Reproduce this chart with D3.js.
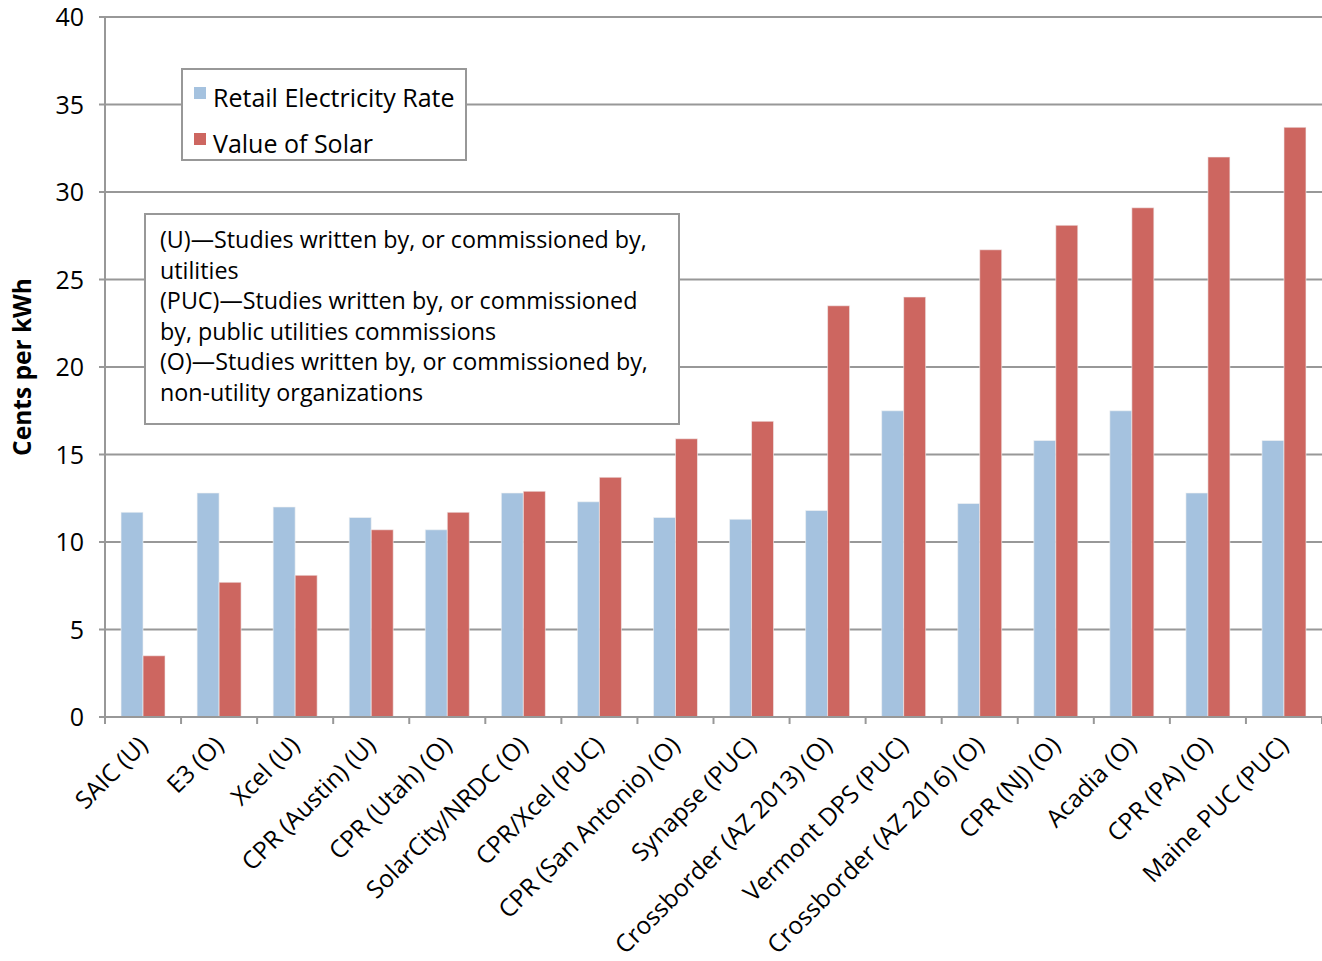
<!DOCTYPE html>
<html><head><meta charset="utf-8">
<script src="https://cdn.jsdelivr.net/npm/d3@7"></script>
<style>body{margin:0;background:#fff}svg{display:block;font-family:"Open Sans","Noto Sans",sans-serif}</style>
</head><body><svg id="c" width="1322" height="961"></svg>
<script>
const categories = ["SAIC (U)","E3 (O)","Xcel (U)","CPR (Austin) (U)","CPR (Utah) (O)","SolarCity/NRDC (O)","CPR/Xcel (PUC)","CPR (San Antonio) (O)","Synapse (PUC)","Crossborder (AZ 2013) (O)","Vermont DPS (PUC)","Crossborder (AZ 2016) (O)","CPR (NJ) (O)","Acadia (O)","CPR (PA) (O)","Maine PUC (PUC)"];
const retailRate = [11.7,12.8,12.0,11.4,10.7,12.8,12.3,11.4,11.3,11.8,17.5,12.2,15.8,17.5,12.8,15.8];
const valueOfSolar = [3.5,7.7,8.1,10.7,11.7,12.9,13.7,15.9,16.9,23.5,24.0,26.7,28.1,29.1,32.0,33.7];
const seriesNames = ["Retail Electricity Rate","Value of Solar"];
const yTicks = [0,5,10,15,20,25,30,35,40];
const noteLines = ["(U)—Studies written by, or commissioned by,","utilities","(PUC)—Studies written by, or commissioned","by, public utilities commissions","(O)—Studies written by, or commissioned by,","non-utility organizations"];
const colors = ["#a5c2df","#cd6660"];

const svg = d3.select("#c");
const L=105, R=1322, T=17, B=717;
const x = d3.scaleBand().domain(categories).range([L,R]).paddingInner(0).paddingOuter(0);
const y = d3.scaleLinear().domain([0,40]).range([B,T]);
const grid="#989898";

// gridlines
svg.append("g").selectAll("line").data(yTicks).join("line")
  .attr("x1",L-6).attr("x2",R).attr("y1",d=>y(d)).attr("y2",d=>y(d))
  .attr("stroke",grid).attr("stroke-width",2);
// y axis line
svg.append("line").attr("x1",L).attr("x2",L).attr("y1",T).attr("y2",B+6).attr("stroke",grid).attr("stroke-width",2);
// y labels
svg.append("g").selectAll("text").data(yTicks).join("text")
  .attr("x",84).attr("y",d=>y(d)+9).attr("text-anchor","end")
  .attr("font-size",25).attr("fill","#000").text(d=>d);

// bars
const bw=22;
const series=[retailRate,valueOfSolar];
series.forEach((vals,si)=>{
  svg.append("g").selectAll("rect").data(vals).join("rect")
    .attr("x",(d,i)=>x(categories[i])+x.bandwidth()/2-bw+si*bw)
    .attr("width",bw)
    .attr("y",d=>y(d)).attr("height",d=>B-y(d))
    .attr("fill",colors[si]).attr("stroke","#f3f3f3").attr("stroke-opacity",0.6).attr("stroke-width",1);
});
// x axis line + ticks
svg.append("line").attr("x1",L).attr("x2",R).attr("y1",B).attr("y2",B).attr("stroke",grid).attr("stroke-width",2);
const tickPos = categories.map(c=>x(c)).concat([R]);
svg.append("g").selectAll("line").data(tickPos).join("line")
  .attr("x1",d=>d).attr("x2",d=>d).attr("y1",B).attr("y2",B+7).attr("stroke",grid).attr("stroke-width",2);
// x labels
svg.append("g").selectAll("text").data(categories).join("text")
  .attr("transform",d=>`translate(${x(d)+x.bandwidth()/2+6},${B+30}) rotate(-45)`)
  .attr("text-anchor","end").attr("font-size",24.5).attr("fill","#000").text(d=>d);

// y title
svg.append("text").attr("transform","translate(31,367) rotate(-90)").attr("text-anchor","middle")
  .attr("font-size",24.5).attr("font-weight","bold").text("Cents per kWh");

// legend
const lg=svg.append("g");
lg.append("rect").attr("x",182).attr("y",69).attr("width",284).attr("height",91).attr("fill","#fff").attr("stroke",grid).attr("stroke-width",2);
seriesNames.forEach((n,i)=>{
  lg.append("rect").attr("x",194).attr("y",87+i*46).attr("width",12).attr("height",12).attr("fill",colors[i]);
  lg.append("text").attr("x",213).attr("y",107+i*46).attr("font-size",25).attr("fill","#000").text(n);
});

// notes box
const nb=svg.append("g");
nb.append("rect").attr("x",145).attr("y",214).attr("width",534).attr("height",210).attr("fill","#fff").attr("stroke",grid).attr("stroke-width",2);
nb.selectAll("text").data(noteLines).join("text")
  .attr("x",160).attr("y",(d,i)=>248+i*30.6).attr("font-size",23.3).attr("fill","#000").text(d=>d);
</script></body></html>
